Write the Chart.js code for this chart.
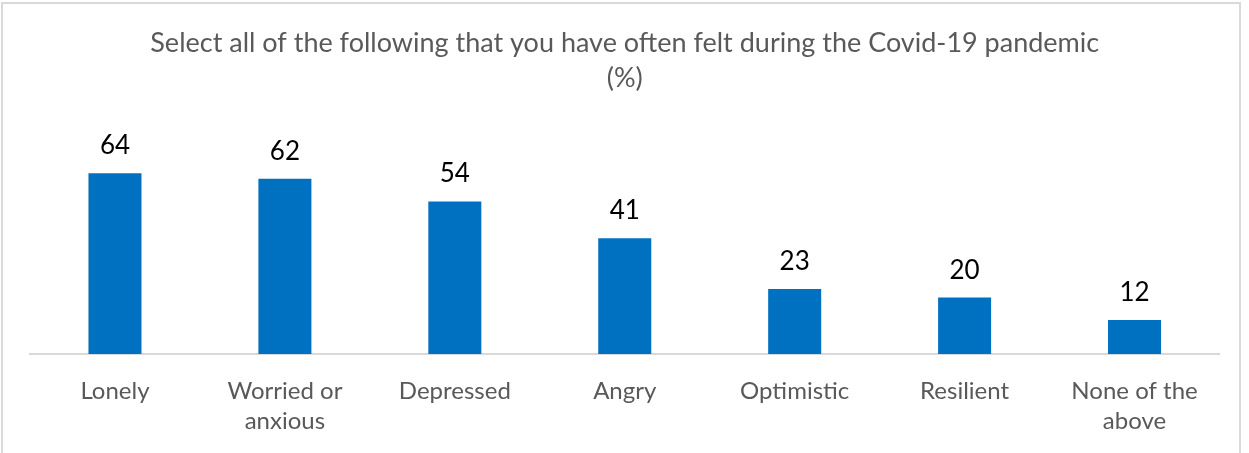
<!DOCTYPE html>
<html lang="en">
<head>
    <meta charset="UTF-8">
    <title>Feelings during the Covid-19 pandemic</title>
    <script src="https://cdn.jsdelivr.net/npm/chart.js"></script>
    <style>
        body {
            margin: 0;
            background-color: #ffffff;
            overflow: hidden;
        }

        #frame {
            position: absolute;
            left: 1px;
            top: 2px;
            width: 1236px;
            height: 480px;
            border: 2px solid #d9d9d9;
            pointer-events: none;
        }

        canvas {
            position: absolute;
            left: 0;
            top: 0;
        }
    </style>
</head>
<body>

    <canvas id="feelingsChart" width="1249" height="453"></canvas>
    <div id="frame"></div>

    <script>
        // Survey answers, percent of respondents
        const categories = [
            'Lonely',
            ['Worried or', 'anxious'],
            'Depressed',
            'Angry',
            'Optimistic',
            'Resilient',
            ['None of the', 'above']
        ];
        const percentages = [64, 62, 54, 41, 23, 20, 12];
        const titleLines = [
            'Select all of the following that you have often felt during the Covid-19 pandemic',
            '(%)'
        ];

        // Value labels above each bar
        const barValueLabels = {
            id: 'barValueLabels',
            afterDatasetsDraw(chart) {
                const ctx = chart.ctx;
                const meta = chart.getDatasetMeta(0);
                ctx.save();
                ctx.font = '26px Lato';
                ctx.fillStyle = '#000000';
                ctx.textAlign = 'center';
                ctx.textBaseline = 'alphabetic';
                meta.data.forEach(function(bar, i) {
                    ctx.fillText(chart.data.datasets[0].data[i], bar.x, bar.y - 19);
                });
                ctx.restore();
            }
        };

        const feelingsChart = new Chart(document.getElementById('feelingsChart'), {
            type: 'bar',
            data: {
                labels: categories,
                datasets: [{
                    label: 'Felt often',
                    data: percentages,
                    backgroundColor: '#0070c0',
                    barPercentage: 0.312,
                    categoryPercentage: 1
                }]
            },
            options: {
                responsive: false,
                animation: false,
                layout: {
                    padding: { left: 30, right: 29.5, top: 0, bottom: 0 }
                },
                plugins: {
                    legend: { display: false },
                    tooltip: { enabled: false },
                    title: {
                        display: true,
                        text: titleLines,
                        color: '#595959',
                        font: { family: 'Lato', size: 27, weight: 'normal', lineHeight: 1.3 },
                        padding: { top: 26, bottom: 31.8 }
                    }
                },
                scales: {
                    x: {
                        grid: { display: false, drawTicks: false },
                        border: { display: true, color: '#d9d9d9', width: 2 },
                        ticks: {
                            color: '#595959',
                            font: { family: 'Lato', size: 24, lineHeight: 1.25 },
                            padding: 22,
                            maxRotation: 0,
                            autoSkip: false
                        },
                        afterFit(scale) {
                            scale.height = 99;
                        }
                    },
                    y: {
                        display: false,
                        min: 0,
                        max: 80
                    }
                }
            },
            plugins: [barValueLabels]
        });
    </script>

</body>
</html>
